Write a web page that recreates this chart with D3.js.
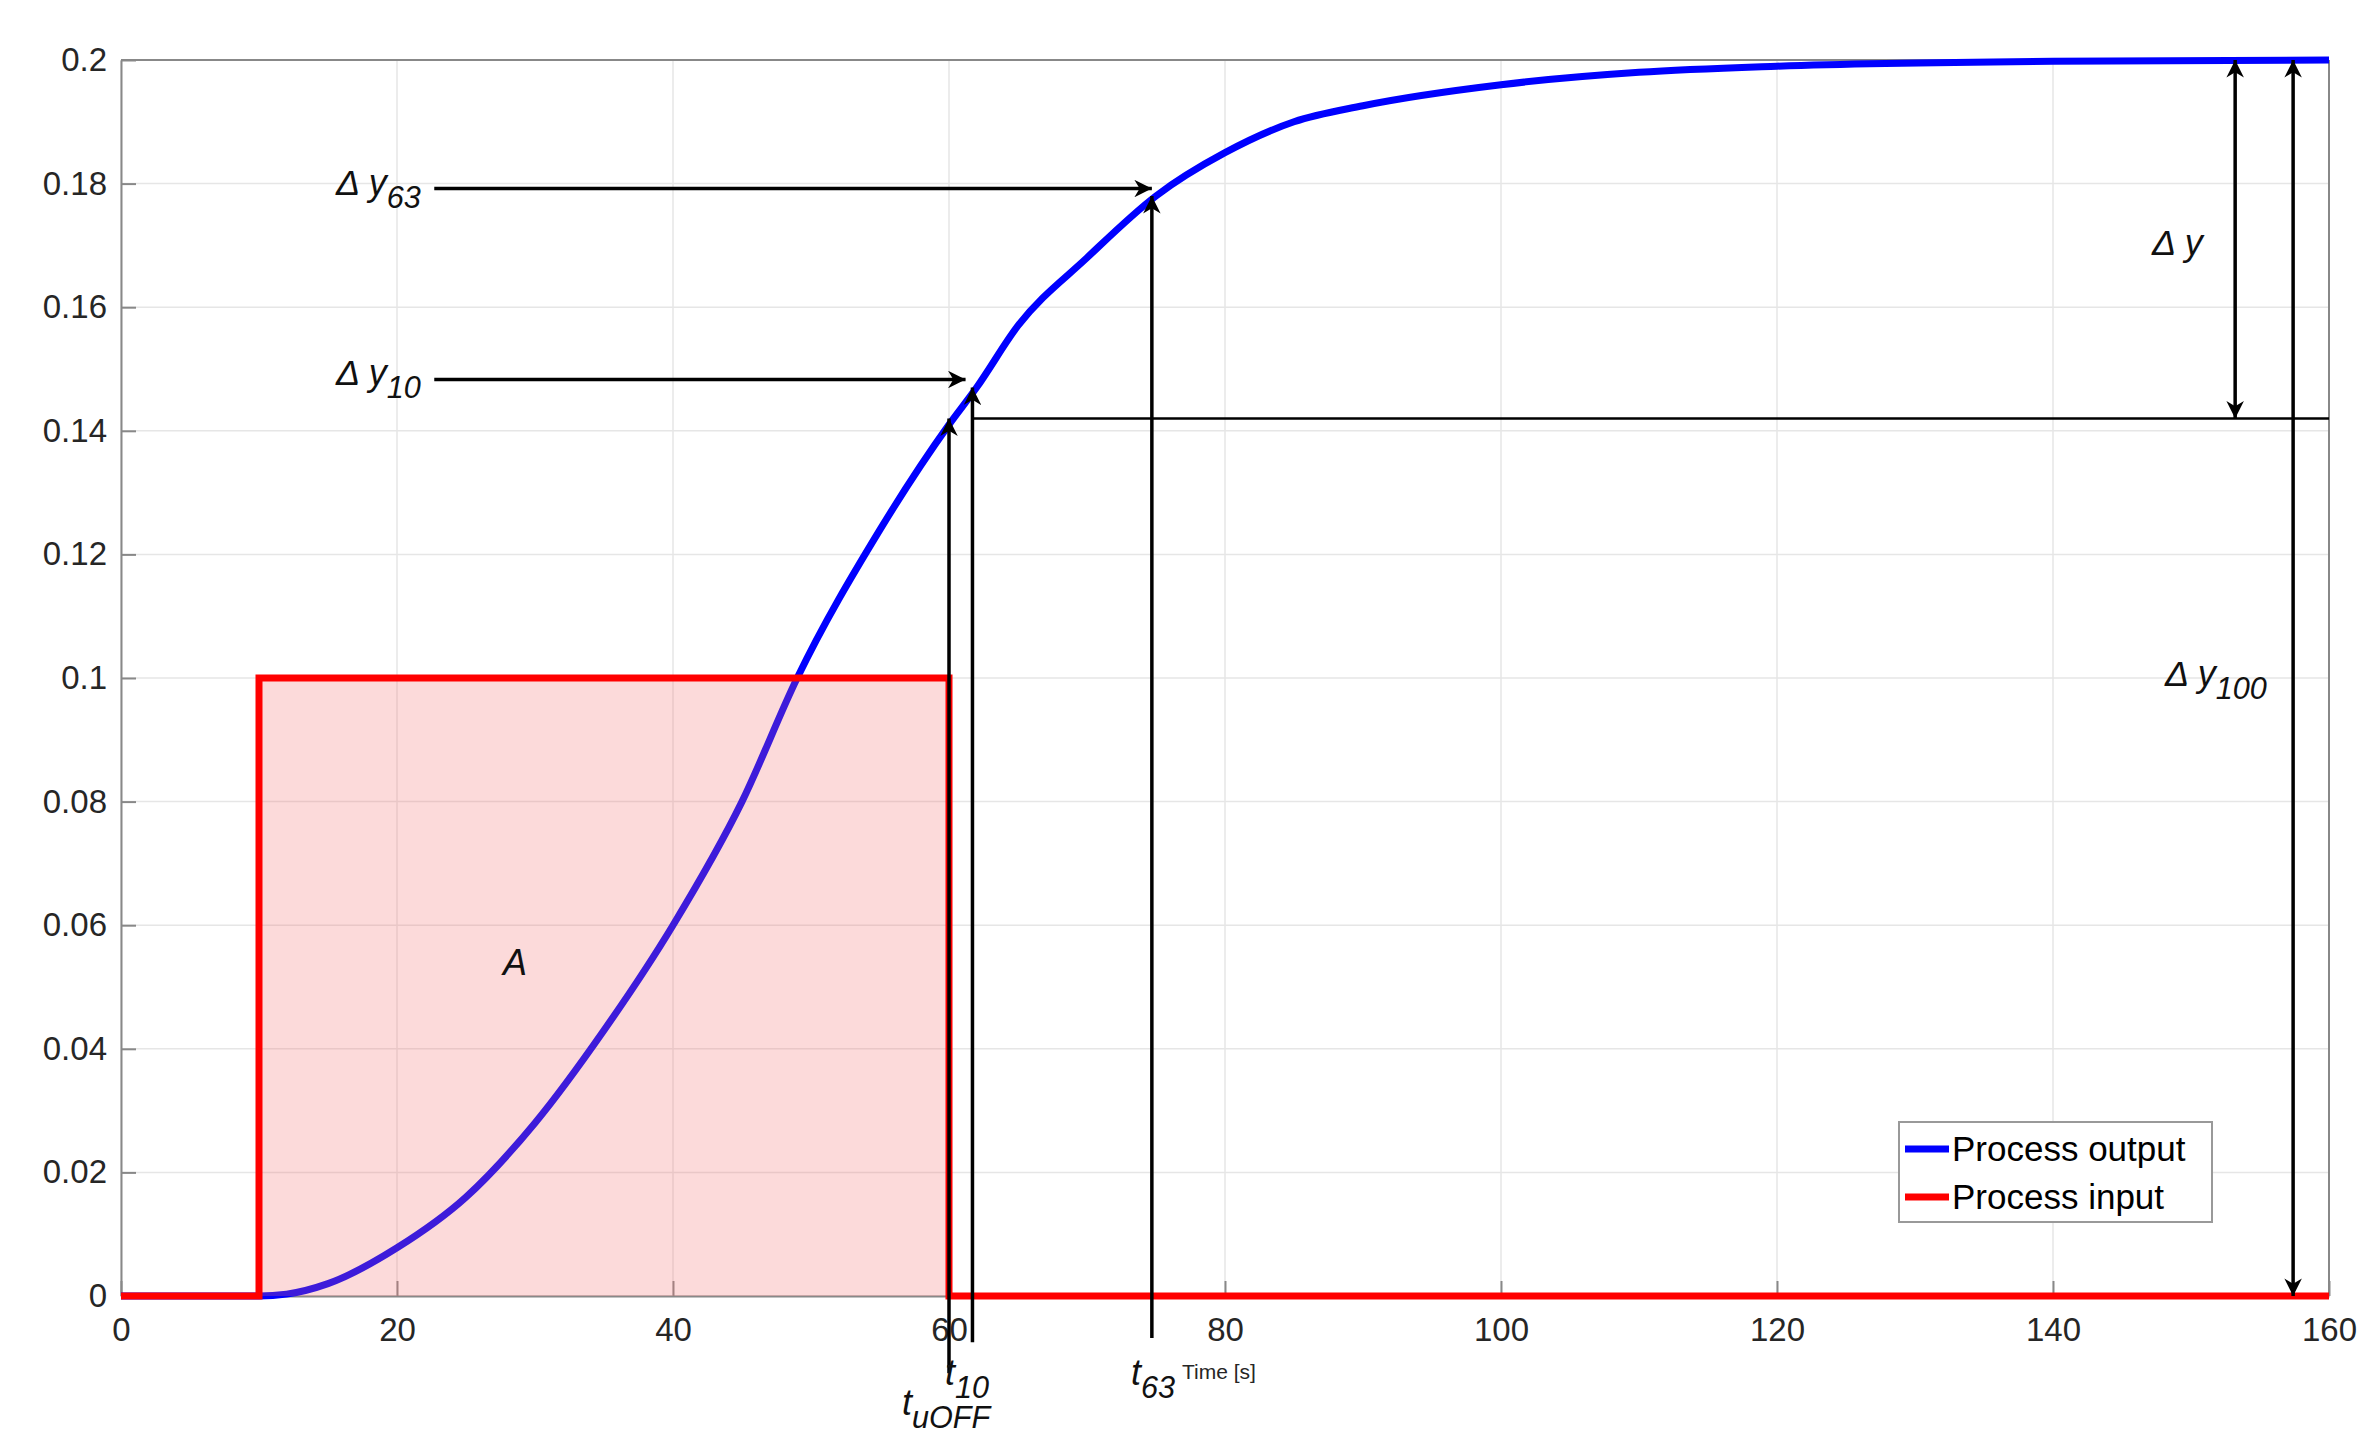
<!DOCTYPE html>
<html><head><meta charset="utf-8">
<script src="https://cdn.jsdelivr.net/npm/d3@7"></script>
<style>body{margin:0;background:#fff}text{font-family:Arial,"Liberation Sans",sans-serif}</style>
</head><body>
<svg id="chart" width="2371" height="1446"></svg>
<script>
// process output
var outT = [0, 10, 12, 15, 20, 25, 30, 35, 40, 45, 49, 55, 60, 62, 65, 70, 75, 80, 85, 90, 100, 110, 120, 140, 160];
var outY = [0, 0, 0.0003, 0.002, 0.0078, 0.016, 0.028, 0.043, 0.060, 0.080, 0.100, 0.124, 0.141, 0.147, 0.157, 0.168, 0.178, 0.185, 0.190, 0.1926, 0.196, 0.198, 0.199, 0.1998, 0.2];
// process input (pulse)
var inT = [0, 10, 10, 60, 60, 160];
var inY = [0, 0, 0.1, 0.1, 0, 0];
var xTicks = [0, 20, 40, 60, 80, 100, 120, 140, 160];
var yTicks = [0, 0.02, 0.04, 0.06, 0.08, 0.1, 0.12, 0.14, 0.16, 0.18, 0.2];
var tOff = 60, t10 = 61.7, t63 = 74.7, y10 = 0.1483, y63 = 0.1792, yBase = 0.142;

(function () {
var svg = d3.select("#chart");
var left = 121, right = 2329, plotTop = 60, bottom = 1296;
var x = d3.scaleLinear().domain([0, 160]).range([left, right]);
var y = d3.scaleLinear().domain([0, 0.2]).range([bottom, plotTop]);

svg.append("defs").append("marker").attr("id", "ah")
  .attr("viewBox", "0 0 10 10").attr("refX", 10).attr("refY", 5)
  .attr("markerWidth", 7).attr("markerHeight", 5).attr("markerUnits", "strokeWidth")
  .attr("orient", "auto-start-reverse")
  .append("path").attr("d", "M0,0L10,5L0,10L3,5Z").attr("fill", "#000");

// grid
svg.append("g").selectAll("line").data(xTicks).enter().append("line")
  .attr("x1", d => x(d)).attr("x2", d => x(d)).attr("y1", plotTop).attr("y2", bottom)
  .style("stroke", "#e6e6e6").style("stroke-width", 1.5);
svg.append("g").selectAll("line").data(yTicks).enter().append("line")
  .attr("y1", d => y(d)).attr("y2", d => y(d)).attr("x1", left).attr("x2", right)
  .style("stroke", "#e6e6e6").style("stroke-width", 1.5);

// axes
var xAxis = svg.append("g").attr("transform", "translate(0," + bottom + ")")
  .call(d3.axisBottom(x).tickValues(xTicks).tickSizeInner(-15).tickSizeOuter(0).tickPadding(22));
var yAxis = svg.append("g").attr("transform", "translate(" + left + ",0)")
  .call(d3.axisLeft(y).tickValues(yTicks).tickSizeInner(-15).tickSizeOuter(0).tickPadding(14).tickFormat(d3.format("~g")));
[xAxis, yAxis].forEach(function (a) {
  a.selectAll("path,line").style("stroke", "#888").style("stroke-width", 2);
  a.selectAll("text").style("font-size", "33px").style("fill", "#262626");
});
svg.append("line").attr("x1", left).attr("x2", right).attr("y1", plotTop).attr("y2", plotTop).style("stroke", "#888").style("stroke-width", 2);
svg.append("line").attr("x1", right).attr("x2", right).attr("y1", plotTop).attr("y2", bottom).style("stroke", "#888").style("stroke-width", 2);

var outData = outT.map((t, i) => [t, outY[i]]);
var inData = inT.map((t, i) => [t, inY[i]]);

svg.append("path").attr("d", d3.line().x(d => x(d[0])).y(d => y(d[1])).curve(d3.curveMonotoneX)(outData))
  .style("fill", "none").style("stroke", "#0000ff").style("stroke-width", 7);

// area A
svg.append("path").attr("d", d3.area().x(d => x(d[0])).y0(y(0)).y1(d => y(d[1]))(inData.slice(1, 5)))
  .style("fill", "#f56a6a").style("opacity", 0.25);

svg.append("path").attr("d", d3.line().x(d => x(d[0])).y(d => y(d[1]))(inData))
  .style("fill", "none").style("stroke", "#ff0000").style("stroke-width", 7);

// annotations
function arrow(x1, y1, x2, y2, both) {
  var l = svg.append("line").attr("x1", x1).attr("y1", y1).attr("x2", x2).attr("y2", y2)
    .style("stroke", "#000").style("stroke-width", 3.5).attr("marker-end", "url(#ah)");
  if (both) l.attr("marker-start", "url(#ah)");
}
svg.append("line").attr("x1", x(t10)).attr("x2", x(160)).attr("y1", y(yBase)).attr("y2", y(yBase))
  .style("stroke", "#000").style("stroke-width", 2.5);
arrow(x(22.7), y(y63), x(t63), y(y63));
arrow(x(22.7), y(y10), x(61.2), y(y10));
arrow(x(tOff), y(-0.0125), x(tOff), y(yBase));
arrow(x(t10), y(-0.0075), x(t10), y(0.147));
arrow(x(t63), y(-0.0068), x(t63), y(0.178));
arrow(x(153.2), y(0.2), x(153.2), y(yBase), true);
arrow(x(157.4), y(0.2), x(157.4), y(0), true);

function label(px, py, main, sub, size) {
  var t = svg.append("text").attr("x", px).attr("y", py).style("font-size", size + "px")
    .style("font-style", "italic").style("fill", "#111");
  t.append("tspan").text(main);
  if (sub) t.append("tspan").attr("dy", size * 0.35).style("font-size", (size * 0.85) + "px").text(sub);
}
label(336, 195, "\u0394 y", "63", 36);
label(336, 385, "\u0394 y", "10", 36);
label(2152, 255, "\u0394 y", null, 36);
label(2165, 686, "\u0394 y", "100", 36);
label(503, 975, "A", null, 36);
label(945, 1385, "t", "10", 36);
label(902, 1415, "t", "uOFF", 36);
label(1131, 1385, "t", "63", 36);
svg.append("text").attr("x", 1182).attr("y", 1379).style("font-size", "21px").style("fill", "#262626").text("Time [s]");

// legend
var lg = svg.append("g").attr("transform", "translate(1899,1122)");
lg.append("rect").attr("width", 313).attr("height", 100).style("fill", "#fff").style("stroke", "#999").style("stroke-width", 2);
[["Process output", "#0000ff"], ["Process input", "#ff0000"]].forEach(function (d, i) {
  var cy = 27 + i * 48;
  lg.append("line").attr("x1", 6).attr("x2", 50).attr("y1", cy).attr("y2", cy).style("stroke", d[1]).style("stroke-width", 7);
  lg.append("text").attr("x", 53).attr("y", cy + 12).style("font-size", "35px").style("fill", "#000").text(d[0]);
});
})();
</script>
</body></html>
